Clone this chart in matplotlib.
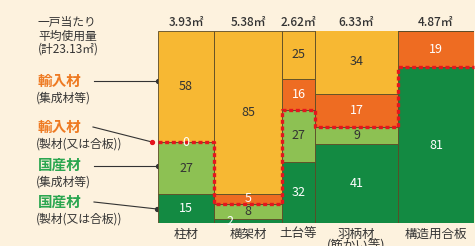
import matplotlib
matplotlib.use("Agg")
import matplotlib.pyplot as plt
import numpy as np

plt.rcParams['font.family'] = ['Noto Sans CJK JP', 'DejaVu Sans']

# data
categories = ["柱材", "横架材", "土台等", "羽柄材\n(筋かい等)", "構造用合板"]
volumes = ["3.93㎡", "5.38㎡", "2.62㎡", "6.33㎡", "4.87㎡"]
dom_plain = [15, 2, 32, 41, 81]      # 国産材 (製材又は合板)
dom_glulam = [27, 8, 27, 9, 0]       # 国産材 (集成材等)
imp_plain = [0, 5, 16, 17, 19]       # 輸入材 (製材又は合板)
imp_glulam = [58, 85, 25, 34, 0]     # 輸入材 (集成材等)

# layout (column widths in px, as drawn in the original)
col_w = [56, 68, 33, 83, 76]
W, H = 475, 246
BG = "#FDF2DE"
C_YEL = "#F7B833"
C_ORG = "#EE6C22"
C_LGR = "#8DC153"
C_DGR = "#138A42"
EDGE = "#5a4a25"
TXT = "#333333"

fig = plt.figure(figsize=(W / 100, H / 100), dpi=100, facecolor=BG)

# overlay axes in pixel coords for annotations
bg = fig.add_axes([0, 0, 1, 1])
bg.set_xlim(0, W)
bg.set_ylim(H, 0)
bg.axis("off")

left, right, top, bottom = 158, 474, 31, 223
ax = fig.add_axes([left / W, (H - bottom) / H, (right - left) / W, (bottom - top) / H])
ax.set_xlim(0, sum(col_w))
ax.set_ylim(0, 100)
ax.axis("off")

edges = np.concatenate([[0], np.cumsum(col_w)])
xs = edges[:-1]
ws = np.array(col_w)

b0 = np.zeros(5)
layers = [(dom_plain, C_DGR), (dom_glulam, C_LGR), (imp_plain, C_ORG), (imp_glulam, C_YEL)]
txt_col = {C_DGR: "white", C_LGR: TXT, C_ORG: "white", C_YEL: TXT}
for vals, c in layers:
    v = np.array(vals, dtype=float)
    ax.bar(xs, v, width=ws, bottom=b0, align="edge", color=c, edgecolor=EDGE, linewidth=0.6)
    for i in range(5):
        if v[i] > 0:
            dx = -18 if v[i] < 3 else 0
            ax.text(xs[i] + ws[i] / 2 + dx, b0[i] + v[i] / 2, str(int(v[i])), ha="center",
                    va="center", fontsize=9, color=txt_col[c])
    b0 = b0 + v

# 0 label on the boundary of col1
ax.text(xs[0] + ws[0] / 2, dom_plain[0] + dom_glulam[0], "0", ha="center", va="center",
        fontsize=9, color="white")

# domestic/imported boundary (red dashed)
dom_top = np.array(dom_plain) + np.array(dom_glulam)
px, py = [], []
for i in range(5):
    px += [edges[i], edges[i + 1]]
    py += [dom_top[i], dom_top[i]]
ax.plot(px, py, color="#E5151E", lw=2.4, ls=(0, (1.2, 0.8)), solid_capstyle="butt", clip_on=False)

# headers and category labels
for i in range(5):
    cx = left + (edges[i] + ws[i] / 2)
    bg.text(cx, 22, volumes[i], ha="center", va="center", fontsize=8.5, color=TXT,
            fontweight="medium")
    lines = categories[i].split("\n")
    bg.text(cx, 234, lines[0], ha="center", va="center", fontsize=9, color=TXT)
    if len(lines) > 1:
        bg.text(cx, 246, lines[1], ha="center", va="center", fontsize=9, color=TXT)

# left legend text
bg.text(38, 36, "一戸当たり\n平均使用量\n(計23.13㎡)", ha="left", va="center", fontsize=8.5,
        color=TXT, linespacing=1.05)

ORG_T = "#EE7A22"
GRN_T = "#2BA650"
legend = [
    ("輸入材", "(集成材等)", ORG_T, 81, (94, 81), (158, 81), TXT),
    ("輸入材", "(製材(又は合板))", ORG_T, 127, (93, 127), (152, 142), "#E5151E"),
    ("国産材", "(集成材等)", GRN_T, 165, (94, 166), (158, 166), TXT),
    ("国産材", "(製材(又は合板))", GRN_T, 202, (94, 202), (157, 209), TXT),
]
for t1, t2, col, y, p0, p1, dc in legend:
    bg.text(38, y, t1, ha="left", va="center", fontsize=10.5, color=col, fontweight="bold")
    bg.text(36, y + 17, t2, ha="left", va="center", fontsize=8.5, color=TXT)
    bg.plot([p0[0], p1[0]], [p0[1], p1[1]], color=TXT, lw=0.8)
    bg.plot([p1[0]], [p1[1]], "o", ms=2.8, color=dc)

fig.savefig("out.png", dpi=100, facecolor=BG)
